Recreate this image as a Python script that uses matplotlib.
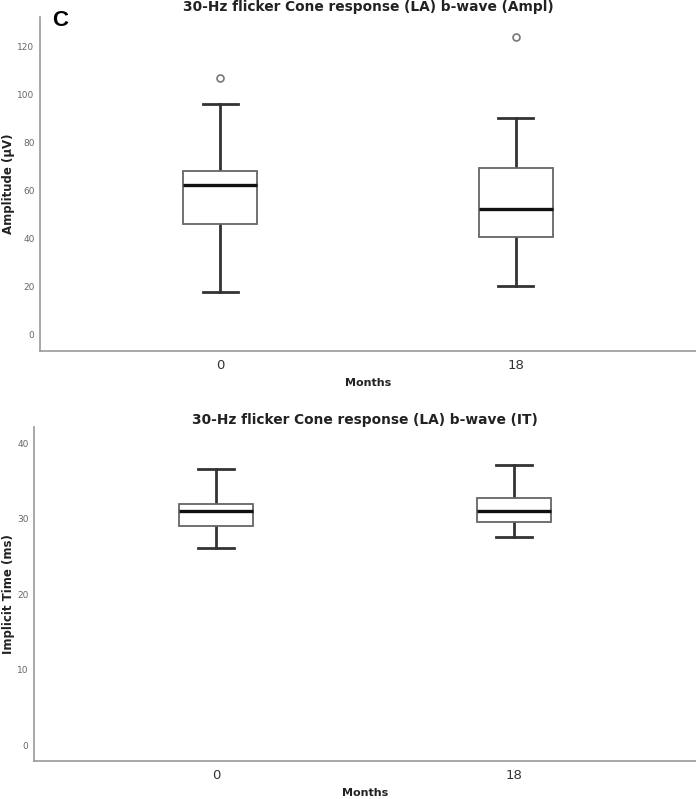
import matplotlib
matplotlib.use("Agg")
import matplotlib.pyplot as plt

# Box statistics (Months 0 and 18)
months = ["0", "18"]

ampl_whislo = [18.0, 20.4]
ampl_q1 = [46.2, 40.5]
ampl_med = [62.2, 52.3]
ampl_q3 = [68.0, 69.3]
ampl_whishi = [96.0, 90.0]
ampl_fliers = [[107.0], [124.0]]

it_whislo = [26.1, 27.6]
it_q1 = [29.1, 29.6]
it_med = [31.0, 31.0]
it_q3 = [32.0, 32.8]
it_whishi = [36.6, 37.1]
it_fliers = [[], []]


def make_stats(lo, q1, med, q3, hi, fl):
    return [dict(whislo=lo[i], q1=q1[i], med=med[i], q3=q3[i], whishi=hi[i],
                 fliers=fl[i], label=months[i]) for i in range(len(months))]


def draw(ax, stats, title, ylabel, ylim, yticks, title_pad, ylab_x):
    ax.bxp(stats, positions=range(len(stats)), widths=0.25, patch_artist=True,
           boxprops=dict(facecolor="white", edgecolor="#666666", linewidth=1.3, zorder=3),
           whiskerprops=dict(color="#333333", linewidth=2.0, zorder=2),
           capprops=dict(color="#333333", linewidth=2.0),
           medianprops=dict(color="#111111", linewidth=2.4, zorder=4),
           flierprops=dict(marker="o", markerfacecolor="none",
                           markeredgecolor="#777777", markersize=5,
                           markeredgewidth=1.2),
           capwidths=0.12)
    ax.set_xlim(-0.61, 1.61)
    ax.set_ylim(*ylim)
    ax.set_yticks(yticks)
    ax.tick_params(axis="y", length=0, labelsize=6.5, labelcolor="#666666", pad=4)
    ax.tick_params(axis="x", length=0, labelsize=9.5, labelcolor="#333333", pad=6)
    for s in ["top", "right"]:
        ax.spines[s].set_visible(False)
    for s in ["left", "bottom"]:
        ax.spines[s].set_color("#999999")
        ax.spines[s].set_linewidth(1.2)
    ax.set_title(title, fontsize=9.9, fontweight="bold", color="#222222", pad=title_pad)
    ax.set_xlabel("Months", fontsize=8, fontweight="bold", color="#222222", labelpad=4)
    ax.set_ylabel(ylabel, fontsize=8.5, fontweight="bold", color="#222222", va="center")
    ax.yaxis.set_label_coords(ylab_x, 0.5)


fig = plt.figure(figsize=(6.96, 7.99), dpi=100)
ax1 = fig.add_axes([0.0575, 0.5607, 0.9425, 0.4184])
ax2 = fig.add_axes([0.0489, 0.0476, 0.9511, 0.4184])

draw(ax1, make_stats(ampl_whislo, ampl_q1, ampl_med, ampl_q3, ampl_whishi, ampl_fliers),
     "30-Hz flicker Cone response (LA) b-wave (Ampl)", "Amplitude (µV)",
     (-6.7, 132.3), [0, 20, 40, 60, 80, 100, 120], 4, (8 - 40) / 656)
draw(ax2, make_stats(it_whislo, it_q1, it_med, it_q3, it_whishi, it_fliers),
     "30-Hz flicker Cone response (LA) b-wave (IT)", "Implicit Time (ms)",
     (-2.1, 42.2), [0, 10, 20, 30, 40], 0, (8 - 34) / 662)

fig.text(0.075, 0.988, "C", fontsize=16, fontweight="bold",
         family="Liberation Sans", va="top", ha="left")

fig.savefig("out.png", dpi=100)
